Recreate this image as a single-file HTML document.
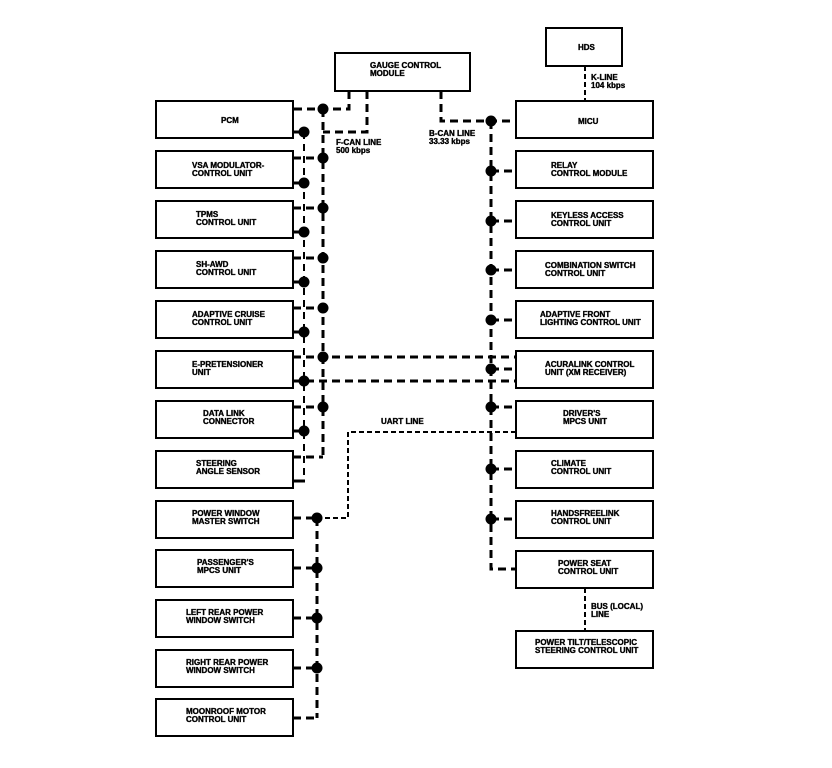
<!DOCTYPE html>
<html><head><meta charset="utf-8"><style>
html,body{margin:0;padding:0;background:#fff;}
svg{display:block;}
text{font-family:"Liberation Sans",sans-serif;font-weight:bold;font-size:8px;fill:#000;stroke:#000;stroke-width:0.35;}
</style></head><body>
<svg width="832" height="768" viewBox="0 0 832 768" xmlns="http://www.w3.org/2000/svg">
<g fill="none" stroke="#000" stroke-width="2">
<rect x="156" y="101" width="137" height="37"/>
<rect x="156" y="151" width="137" height="37"/>
<rect x="156" y="201" width="137" height="37"/>
<rect x="156" y="251" width="137" height="37"/>
<rect x="156" y="301" width="137" height="37"/>
<rect x="156" y="351" width="137" height="37"/>
<rect x="156" y="401" width="137" height="37"/>
<rect x="156" y="451" width="137" height="37"/>
<rect x="156" y="501" width="137" height="37"/>
<rect x="156" y="550" width="137" height="37"/>
<rect x="156" y="600" width="137" height="37"/>
<rect x="156" y="650" width="137" height="37"/>
<rect x="156" y="699" width="137" height="37"/>
<rect x="516" y="101" width="137" height="37"/>
<rect x="516" y="151" width="137" height="37"/>
<rect x="516" y="201" width="137" height="37"/>
<rect x="516" y="251" width="137" height="37"/>
<rect x="516" y="301" width="137" height="37"/>
<rect x="516" y="351" width="137" height="37"/>
<rect x="516" y="401" width="137" height="37"/>
<rect x="516" y="451" width="137" height="37"/>
<rect x="516" y="501" width="137" height="37"/>
<rect x="516" y="551" width="137" height="37"/>
<rect x="516" y="631" width="137" height="37"/>
<rect x="335" y="53" width="135" height="38"/>
<rect x="546" y="28" width="76" height="38"/>
</g>
<g fill="none" stroke="#000" stroke-width="3" stroke-dasharray="8,5">
<polyline points="349,91 349,109 293,109"/>
<polyline points="367,91 367,132 323,132"/>
<polyline points="441,91 441,121 516,121"/>
<line x1="323" y1="109" x2="323" y2="457"/>
<line x1="293" y1="158" x2="323" y2="158"/>
<line x1="293" y1="208" x2="323" y2="208"/>
<line x1="293" y1="258" x2="323" y2="258"/>
<line x1="293" y1="308" x2="323" y2="308"/>
<line x1="293" y1="407" x2="323" y2="407"/>
<line x1="293" y1="457" x2="323" y2="457"/>
<line x1="293" y1="357" x2="516" y2="357"/>
<line x1="293" y1="381" x2="516" y2="381"/>
<polyline points="491,121 491,569 516,569"/>
<line x1="491" y1="171" x2="516" y2="171"/>
<line x1="491" y1="221" x2="516" y2="221"/>
<line x1="491" y1="270" x2="516" y2="270"/>
<line x1="491" y1="320" x2="516" y2="320"/>
<line x1="491" y1="369" x2="516" y2="369"/>
<line x1="491" y1="407" x2="516" y2="407"/>
<line x1="491" y1="469" x2="516" y2="469"/>
<line x1="491" y1="519" x2="516" y2="519"/>
<line x1="317" y1="518" x2="317" y2="718"/>
<line x1="293" y1="518" x2="317" y2="518"/>
<line x1="293" y1="568" x2="317" y2="568"/>
<line x1="293" y1="618" x2="317" y2="618"/>
<line x1="293" y1="668" x2="317" y2="668"/>
<line x1="293" y1="718" x2="317" y2="718"/>
<line x1="293" y1="132" x2="304" y2="132"/>
</g>
<g fill="none" stroke="#000" stroke-width="2" stroke-dasharray="7,5">
<line x1="304" y1="132" x2="304" y2="481"/>
</g>
<g stroke="#000" stroke-width="3">
<line x1="293" y1="183" x2="304" y2="183"/>
<line x1="293" y1="232" x2="304" y2="232"/>
<line x1="293" y1="282" x2="304" y2="282"/>
<line x1="293" y1="332" x2="304" y2="332"/>
<line x1="293" y1="431" x2="304" y2="431"/>
<line x1="293" y1="481" x2="305" y2="481"/>
</g>
<g fill="none" stroke="#000" stroke-width="2" stroke-dasharray="5,3">
<polyline points="516,432 348,432 348,518 317,518"/>
<line x1="585" y1="66" x2="585" y2="101"/>
<line x1="585" y1="588" x2="585" y2="631"/>
</g>
<g fill="#000">
<circle cx="323" cy="109" r="5.5"/><circle cx="304" cy="132" r="5.5"/>
<circle cx="323" cy="158" r="5.5"/><circle cx="304" cy="183" r="5.5"/>
<circle cx="323" cy="208" r="5.5"/><circle cx="304" cy="232" r="5.5"/>
<circle cx="323" cy="258" r="5.5"/><circle cx="304" cy="282" r="5.5"/>
<circle cx="323" cy="308" r="5.5"/><circle cx="304" cy="332" r="5.5"/>
<circle cx="323" cy="357" r="5.5"/><circle cx="304" cy="381" r="5.5"/>
<circle cx="323" cy="407" r="5.5"/><circle cx="304" cy="431" r="5.5"/>
<circle cx="491" cy="121" r="5.5"/><circle cx="491" cy="171" r="5.5"/>
<circle cx="491" cy="221" r="5.5"/><circle cx="491" cy="270" r="5.5"/>
<circle cx="491" cy="320" r="5.5"/><circle cx="491" cy="369" r="5.5"/>
<circle cx="491" cy="407" r="5.5"/><circle cx="491" cy="469" r="5.5"/>
<circle cx="491" cy="519" r="5.5"/>
<circle cx="317" cy="518" r="5.5"/><circle cx="317" cy="568" r="5.5"/>
<circle cx="317" cy="618" r="5.5"/><circle cx="317" cy="668" r="5.5"/>
</g>
<text x="221" y="123">PCM</text>
<text x="192" y="168">VSA MODULATOR-</text><text x="192" y="176">CONTROL UNIT</text>
<text x="196" y="217">TPMS</text><text x="196" y="225">CONTROL UNIT</text>
<text x="196" y="267">SH-AWD</text><text x="196" y="275">CONTROL UNIT</text>
<text x="192" y="317">ADAPTIVE CRUISE</text><text x="192" y="325">CONTROL UNIT</text>
<text x="192" y="367">E-PRETENSIONER</text><text x="192" y="375">UNIT</text>
<text x="203" y="416">DATA LINK</text><text x="203" y="424">CONNECTOR</text>
<text x="196" y="466">STEERING</text><text x="196" y="474">ANGLE SENSOR</text>
<text x="192" y="516">POWER WINDOW</text><text x="192" y="524">MASTER SWITCH</text>
<text x="197" y="565">PASSENGER'S</text><text x="197" y="573">MPCS UNIT</text>
<text x="186" y="615">LEFT REAR POWER</text><text x="186" y="623">WINDOW SWITCH</text>
<text x="186" y="665">RIGHT REAR POWER</text><text x="186" y="673">WINDOW SWITCH</text>
<text x="186" y="714">MOONROOF MOTOR</text><text x="186" y="722">CONTROL UNIT</text>
<text x="370" y="68">GAUGE CONTROL</text><text x="370" y="76">MODULE</text>
<text x="578" y="50">HDS</text>
<text x="591" y="80">K-LINE</text><text x="591" y="88">104 kbps</text>
<text x="336" y="145">F-CAN LINE</text><text x="336" y="153">500 kbps</text>
<text x="429" y="136">B-CAN LINE</text><text x="429" y="144">33.33 kbps</text>
<text x="381" y="424">UART LINE</text>
<text x="578" y="124">MICU</text>
<text x="551" y="168">RELAY</text><text x="551" y="176">CONTROL MODULE</text>
<text x="551" y="218">KEYLESS ACCESS</text><text x="551" y="226">CONTROL UNIT</text>
<text x="545" y="268">COMBINATION SWITCH</text><text x="545" y="276">CONTROL UNIT</text>
<text x="540" y="317">ADAPTIVE FRONT</text><text x="540" y="325">LIGHTING CONTROL UNIT</text>
<text x="545" y="367">ACURALINK CONTROL</text><text x="545" y="375">UNIT (XM RECEIVER)</text>
<text x="563" y="416">DRIVER'S</text><text x="563" y="424">MPCS UNIT</text>
<text x="551" y="466">CLIMATE</text><text x="551" y="474">CONTROL UNIT</text>
<text x="551" y="516">HANDSFREELINK</text><text x="551" y="524">CONTROL UNIT</text>
<text x="558" y="566">POWER SEAT</text><text x="558" y="574">CONTROL UNIT</text>
<text x="591" y="609">BUS (LOCAL)</text><text x="591" y="617">LINE</text>
<text x="535" y="645">POWER TILT/TELESCOPIC</text><text x="535" y="653">STEERING CONTROL UNIT</text>
</svg>
</body></html>
